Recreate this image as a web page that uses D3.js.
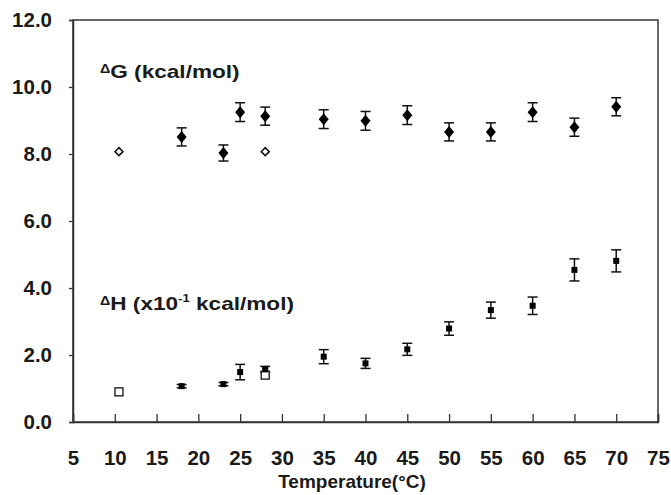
<!DOCTYPE html>
<html>
<head>
<meta charset="utf-8">
<script src="https://cdn.jsdelivr.net/npm/d3@7"></script>
<style>
  body { margin: 0; background: #fff; }
  text { font-family: "Liberation Sans", Arial, sans-serif; font-weight: bold; fill: #1a1a1a; }
</style>
</head>
<body>
<div id="chart"></div>
<script>
// temperatures (deg C)
var tempsG = [18, 23, 25, 28, 35, 40, 45, 50, 55, 60, 65, 70];
var dG = [8.51, 8.03, 9.25, 9.13, 9.04, 8.99, 9.16, 8.66, 8.66, 9.25, 8.80, 9.41];
var dGerr = [0.27, 0.24, 0.28, 0.27, 0.28, 0.28, 0.28, 0.27, 0.27, 0.28, 0.27, 0.27];
var tempsGopen = [10.5, 28];
var dGopen = [8.07, 8.07];

var tempsH = [18, 23, 25, 28, 35, 40, 45, 50, 55, 60, 65, 70];
var dH = [1.07, 1.13, 1.49, 1.57, 1.95, 1.75, 2.17, 2.79, 3.34, 3.47, 4.54, 4.81];
var dHerr = [0.05, 0.05, 0.23, 0.09, 0.21, 0.15, 0.18, 0.2, 0.24, 0.26, 0.33, 0.33];
var tempsHopen = [10.5, 28];
var dHopen = [0.9, 1.4];

var xTicks = [5, 10, 15, 20, 25, 30, 35, 40, 45, 50, 55, 60, 65, 70, 75];
var yTicks = [0, 2, 4, 6, 8, 10, 12];

var w = 671, h = 495;
var mLeft = 73, mRight = 658, mTop = 20, mBottom = 422;

var svg = d3.select("#chart").append("svg")
    .attr("width", w)
    .attr("height", h);

var x = d3.scaleLinear().domain([5, 75]).range([mLeft, mRight]);
var y = d3.scaleLinear().domain([0, 12]).range([mBottom, mTop]);

// frame
svg.append("rect")
    .attr("x", mLeft).attr("y", mTop)
    .attr("width", mRight - mLeft).attr("height", mBottom - mTop)
    .attr("fill", "none").attr("stroke", "#333").attr("stroke-width", 1.5);

var xaxis = d3.axisBottom(x)
    .tickValues(xTicks)
    .tickSize(-8)
    .tickPadding(28)
    .tickFormat(d3.format("d"));
var gx = svg.append("g")
    .attr("transform", "translate(0," + mBottom + ")")
    .call(xaxis);

var yaxis = d3.axisLeft(y)
    .tickValues(yTicks)
    .tickSize(4)
    .tickPadding(17)
    .tickFormat(d3.format(".1f"));
var gy = svg.append("g")
    .attr("transform", "translate(" + mLeft + ",0)")
    .call(yaxis);

[gx, gy].forEach(function (g) {
    g.attr("font-size", 20.5).attr("font-family", null);
    g.select(".domain").attr("stroke", "#333").attr("stroke-width", 1.5);
    g.selectAll(".tick line").attr("stroke", "#333").attr("stroke-width", 1.3);
    g.selectAll(".tick text").attr("fill", "#1a1a1a");
});

svg.append("text")
    .attr("x", 352)
    .attr("y", 488)
    .attr("text-anchor", "middle")
    .attr("font-size", 19)
    .text("Temperature(°C)");

// annotations (slightly stretched like the original figure)
var tg = svg.append("text").attr("transform", "translate(100,78) scale(1.19,1)").attr("font-size", 19);
tg.append("tspan").attr("font-size", 12).attr("dy", -5).text("Δ");
tg.append("tspan").attr("dy", 5).text("G (kcal/mol)");

var th = svg.append("text").attr("transform", "translate(100,310) scale(1.19,1)").attr("font-size", 19);
th.append("tspan").attr("font-size", 12).attr("dy", -5).text("Δ");
th.append("tspan").attr("dy", 5).text("H (x10");
th.append("tspan").attr("font-size", 11).attr("dy", -8).text("-1");
th.append("tspan").attr("dy", 8).text(" kcal/mol)");

function errorBars(temps, vals, errs) {
    var g = svg.append("g").attr("stroke", "#111").attr("stroke-width", 1.5).attr("fill", "none");
    var data = temps.map(function (t, i) { return { t: t, v: vals[i], e: errs[i] }; });
    g.selectAll(".v").data(data).enter().append("line")
        .attr("x1", function (d) { return x(d.t); })
        .attr("x2", function (d) { return x(d.t); })
        .attr("y1", function (d) { return y(d.v - d.e); })
        .attr("y2", function (d) { return y(d.v + d.e); });
    [-1, 1].forEach(function (s) {
        g.selectAll(".c" + s).data(data).enter().append("line")
            .attr("x1", function (d) { return x(d.t) - 5; })
            .attr("x2", function (d) { return x(d.t) + 5; })
            .attr("y1", function (d) { return y(d.v + s * d.e); })
            .attr("y2", function (d) { return y(d.v + s * d.e); });
    });
}

var diamond = "M0,-6L5,0L0,6L-5,0Z";
var smallDiamond = "M0,-4L4,0L0,4L-4,0Z";

errorBars(tempsG, dG, dGerr);
svg.selectAll(".dg").data(tempsG).enter().append("path")
    .attr("d", diamond)
    .attr("fill", "#000")
    .attr("transform", function (d, i) { return "translate(" + x(d) + "," + y(dG[i]) + ")"; });

svg.selectAll(".dgo").data(tempsGopen).enter().append("path")
    .attr("d", smallDiamond)
    .attr("fill", "#fff").attr("stroke", "#111").attr("stroke-width", 1.5)
    .attr("transform", function (d, i) { return "translate(" + x(d) + "," + y(dGopen[i]) + ")"; });

errorBars(tempsH, dH, dHerr);
svg.selectAll(".dho").data(tempsHopen).enter().append("rect")
    .attr("x", function (d) { return x(d) - 4; })
    .attr("y", function (d, i) { return y(dHopen[i]) - 4; })
    .attr("width", 8).attr("height", 8)
    .attr("fill", "#fff").attr("stroke", "#111").attr("stroke-width", 1.3);
svg.selectAll(".dh").data(tempsH).enter().append("rect")
    .attr("x", function (d) { return x(d) - 3; })
    .attr("y", function (d, i) { return y(dH[i]) - 3; })
    .attr("width", 6).attr("height", 6)
    .attr("fill", "#000");
</script>
</body>
</html>
